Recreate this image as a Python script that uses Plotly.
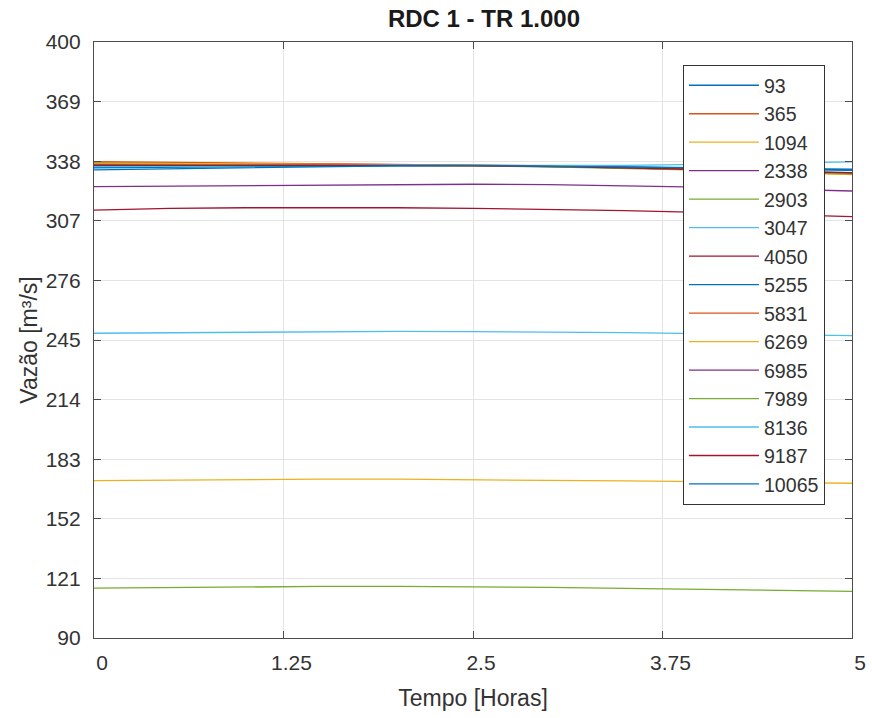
import plotly.graph_objects as go

# ---- data -------------------------------------------------------------
time_h = [0, 0.5, 1, 1.5, 2, 2.5, 3, 3.5, 4, 4.5, 5]

section_names = ["93", "365", "1094", "2338", "2903", "3047", "4050", "5255",
                 "5831", "6269", "6985", "7989", "8136", "9187", "10065"]

q_93 = [335.6, 335.7, 335.8, 335.9, 335.9, 335.8, 335.5, 335.0, 334.4, 333.8, 333.2]
q_365 = [337.8, 337.5, 337.1, 336.7, 336.4, 336.0, 335.5, 334.8, 333.9, 332.8, 331.8]
q_1094 = [171.9, 172.2, 172.5, 172.6, 172.6, 172.4, 172.1, 171.7, 171.3, 170.9, 170.5]
q_2338 = [324.8, 325.0, 325.4, 325.8, 326.0, 326.0, 325.8, 325.3, 324.5, 323.5, 322.5]
q_2903 = [115.9, 116.3, 116.7, 116.8, 116.8, 116.6, 116.3, 115.8, 115.3, 114.8, 114.3]
q_3047 = [248.5, 248.8, 249.1, 249.4, 249.5, 249.4, 249.2, 248.8, 248.3, 247.8, 247.3]
q_4050 = [312.6, 313.5, 313.8, 313.9, 313.8, 313.5, 313.0, 312.3, 311.4, 310.3, 309.2]
q_5255 = [334.6, 334.9, 335.2, 335.5, 335.7, 335.7, 335.4, 335.0, 334.5, 334.0, 333.5]
q_5831 = [337.3, 337.1, 336.8, 336.5, 336.2, 335.9, 335.4, 334.6, 333.6, 332.4, 331.2]
q_6269 = [337.0, 336.9, 336.7, 336.4, 336.1, 335.8, 335.3, 334.5, 333.5, 332.3, 331.0]
q_6985 = [336.2, 336.2, 336.1, 336.0, 335.9, 335.7, 335.2, 334.5, 333.6, 332.6, 331.6]
q_7989 = [336.5, 336.4, 336.3, 336.1, 335.9, 335.6, 335.1, 334.4, 333.4, 332.4, 331.4]
q_8136 = [335.2, 335.4, 335.6, 335.8, 335.9, 335.8, 335.7, 335.8, 336.3, 337.0, 337.6]
q_9187 = [335.9, 335.9, 336.0, 336.0, 335.9, 335.7, 335.3, 334.6, 333.8, 332.9, 332.0]
q_10065 = [333.5, 334.0, 334.6, 335.2, 335.6, 335.7, 335.5, 335.1, 334.7, 334.2, 333.8]

series_values = [q_93, q_365, q_1094, q_2338, q_2903, q_3047, q_4050, q_5255,
                 q_5831, q_6269, q_6985, q_7989, q_8136, q_9187, q_10065]

y_ticks = [90, 121, 152, 183, 214, 245, 276, 307, 338, 369, 400]
x_ticks = [0, 1.25, 2.5, 3.75, 5]
x_tick_labels = ["0", "1.25", "2.5", "3.75", "5"]

# ---- style ------------------------------------------------------------
matlab_colors = ["#0072BD", "#D95319", "#EDB120", "#7E2F8E",
                 "#77AC30", "#4DBEEE", "#A2142F"]
FONT = "Liberation Sans, Arial, sans-serif"
NARROW = "Liberation Sans Narrow, Arial Narrow, Liberation Sans, Arial, sans-serif"

fig = go.Figure()
for i, (name, vals) in enumerate(zip(section_names, series_values)):
    fig.add_trace(go.Scatter(
        x=time_h, y=vals, name=name, mode="lines",
        line=dict(color=matlab_colors[i % 7], width=1.3),
    ))

axis_common = dict(
    showline=True, linecolor="#4d4d4d", linewidth=1.2, mirror="ticks",
    ticks="inside", ticklen=7, tickcolor="#4d4d4d", tickwidth=1,
    showgrid=True, gridcolor="#e4e4e4", gridwidth=1, zeroline=False,
    automargin=False,
    tickfont=dict(family=FONT, size=21, color="#333333"),
)

fig.update_layout(
    width=872, height=718,
    margin=dict(l=94, r=20, t=42, b=80),
    paper_bgcolor="white", plot_bgcolor="white",
    title=dict(text="<b>RDC 1 - TR 1.000</b>", x=0.555, xanchor="center",
               y=1 - 19 / 718, yanchor="middle", yref="container",
               font=dict(family=NARROW, size=24, color="#1a1a1a")),
    xaxis=dict(range=[0, 5], tickvals=x_ticks, ticktext=x_tick_labels,
               title=dict(text="Tempo [Horas]", standoff=16,
                          font=dict(family=FONT, size=23, color="#333333")),
               ticklabelstandoff=6, ticklabelshift=8,
               **axis_common),
    yaxis=dict(range=[90, 400], tickvals=y_ticks,
               title=dict(text="Vazão [m³/s]", standoff=1,
                          font=dict(family=FONT, size=23, color="#333333")),
               ticklabelstandoff=8,
               **axis_common),
    legend=dict(x=0.777, y=0.9614, xanchor="left", yanchor="top",
                bgcolor="white", bordercolor="#333333", borderwidth=1,
                font=dict(family=NARROW, size=19.6, color="#333333"),
                itemwidth=70, tracegroupgap=0),
    showlegend=True,
)

fig.write_html("out.html",
               config={"displayModeBar": False},
               post_script="document.body.style.margin='0';"
                           "document.body.style.overflow='hidden';")
